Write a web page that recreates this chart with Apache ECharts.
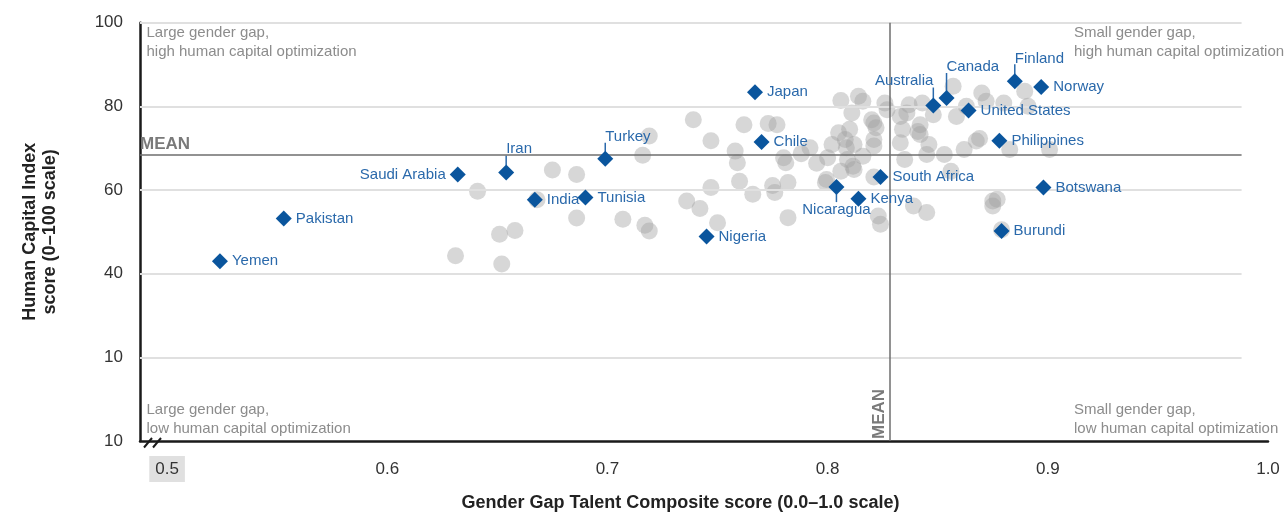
<!DOCTYPE html>
<html><head><meta charset="utf-8">
<script src="https://cdn.jsdelivr.net/npm/echarts@6/dist/echarts.min.js"></script>
<style>html,body{margin:0;padding:0;background:#fff}#c{width:1287px;height:517px}</style>
</head><body><div id="c"></div>
<script>
// ---------- DATA ----------
const countryNames = ['Yemen','Pakistan','Saudi Arabia','Iran','India','Tunisia','Turkey','Japan','Chile','Nigeria','Nicaragua','Kenya','South Africa','Australia','Canada','Finland','Norway','United States','Philippines','Botswana','Burundi'];
const countryX = [0.524,0.553,0.632,0.654,0.667,0.690,0.699,0.767,0.770,0.745,0.804,0.814,0.824,0.848,0.854,0.885,0.897,0.864,0.878,0.898,0.879];
const countryY = [43.0,53.2,63.7,64.2,57.7,58.2,67.5,83.4,71.5,48.9,60.7,57.9,63.1,80.2,82.0,86.0,84.6,79.0,71.8,60.6,50.2];

const otherX = [0.641,0.675,0.686,0.686,0.651,0.658,0.631,0.652,0.707,0.717,0.719,0.716,0.719,0.668,
  0.739,0.762,0.773,0.777,0.747,0.758,0.759,0.780,0.781,0.788,0.792,0.795,0.800,0.802,0.805,0.806,
  0.760,0.747,0.766,0.775,0.776,0.782,0.799,0.736,0.742,0.750,0.782,
  0.814,0.816,0.826,0.837,0.843,0.811,0.827,0.833,0.848,0.820,0.821,0.822,0.810,0.808,0.834,0.841,0.842,0.821,
  0.8085,0.812,0.821,0.833,0.846,0.853,0.845,0.809,0.816,0.8115,0.835,0.806,0.812,0.821,0.7995,
  0.839,0.845,0.823,0.824,0.857,0.870,0.872,0.880,0.8895,0.891,0.8585,0.863,0.8675,0.869,0.862,0.8827,0.9008,
  0.856,0.875,0.877,0.875,0.836,0.879,0.842];
const otherY = [59.7,64.8,63.7,53.3,49.4,50.3,44.3,42.3,53.0,51.6,50.2,68.3,72.9,57.7,
  76.8,75.6,75.9,75.6,71.8,69.3,66.5,67.7,66.5,68.7,70.1,66.4,67.7,70.9,73.7,81.4,
  62.1,60.6,59.0,61.1,59.4,61.8,61.8,57.4,55.6,52.2,53.4,
  82.4,81.2,80.8,80.4,80.8,78.4,79.2,77.6,78.0,76.8,76.0,74.9,74.5,72.1,74.5,74.0,73.3,72.1,
  70.1,70.9,70.5,71.3,70.9,68.5,68.5,67.3,68.1,65.7,67.3,64.5,64.9,63.1,62.5,
  56.2,54.6,53.8,51.8,84.8,83.2,81.2,80.8,83.6,80.0,77.6,80.0,71.7,72.3,69.7,69.7,69.7,
  64.5,57.4,57.8,56.2,78.4,50.5,75.6];

const xTickValues = [0.5,0.6,0.7,0.8,0.9,1.0];
const xTickLabels = ['0.5','0.6','0.7','0.8','0.9','1.0'];
const yTickValues = [0,20,40,60,80,100];
const yTickLabels = ['10','10','40','60','80','100'];
const gridLineValues = [20,40,60,80,100];
const meanX = 0.828;
const meanY = 68.5;
const xMin = 0.4877, xMax = 1.0, gridLineEndX = 0.988;

const quadrantTexts = [
  'Large gender gap,\nhigh human capital optimization',
  'Large gender gap,\nlow human capital optimization',
  'Small gender gap,\nhigh human capital optimization',
  'Small gender gap,\nlow human capital optimization'
];

// ---------- STYLE ----------
const FONT = '"Liberation Sans", Arial, Helvetica, sans-serif';
const BLUE = '#0a559d';
const LABEL_BLUE = '#2a69ab';

const labelStyle = {
  'Saudi Arabia': {position:'left', distance:4},
  'Iran': {position:'top', distance:8, align:'left', offset:[-2,0]},
  'Turkey': {position:'top', distance:6, align:'left', offset:[-5,0]},
  'Australia': {position:'top', distance:9, align:'right', offset:[6,0]},
  'Canada': {position:'top', distance:16, align:'left', offset:[-5,0]},
  'Finland': {position:'top', distance:7, align:'left', offset:[-3,0]},
  'Nicaragua': {position:'bottom', distance:7, align:'center', offset:[-19,0]},
  'United States': {position:'right', distance:4, offset:[0,5]}
};
const leaderLen = {'Iran':10,'Turkey':9,'Australia':11,'Canada':18,'Finland':10,'Nicaragua':-8};

const countryData = countryNames.map((n,i)=>{
  const ls = labelStyle[n] || {position:'right', distance:4};
  return {name:n, value:[countryX[i], countryY[i]], label:Object.assign({show:true}, ls)};
});
const otherData = otherX.map((x,i)=>[x, otherY[i]]);
const leaderData = countryNames.map((n,i)=> leaderLen[n] ? [countryX[i], countryY[i], leaderLen[n]] : null).filter(Boolean);

const gridLineData = gridLineValues.map(v=>[{coord:[xMin, v]},{coord:[gridLineEndX, v]}]);

function tickFmt(values, labels){
  return function(v){
    for (let i=0;i<values.length;i++) if (Math.abs(values[i]-v)<1e-6) return labels[i];
    return '';
  };
}

const chart = echarts.init(document.getElementById('c'), null, {renderer:'canvas'});
chart.setOption({
  animation:false,
  backgroundColor:'#fff',
  textStyle:{fontFamily:FONT},
  grid:{left:140, right:19, top:22.7, bottom:74.3, containLabel:false},
  xAxis:{
    type:'value', min:xMin, max:xMax,
    name:'Gender Gap Talent Composite score (0.0–1.0 scale)',
    nameLocation:'middle', nameGap:53,
    nameTextStyle:{fontSize:18, fontWeight:'bold', color:'#222', fontFamily:FONT, padding:[0,47,0,0]},
    axisLine:{show:true, onZero:false, lineStyle:{color:'#1a1a1a', width:2.5}},
    axisTick:{show:false},
    splitLine:{show:false},
    axisLabel:{
      customValues:xTickValues, margin:15, fontSize:17, color:'#333', fontFamily:FONT,
      formatter:function(v){ const t = tickFmt(xTickValues,xTickLabels)(v); return v<0.55 ? '{hl|'+t+'}' : '{n|'+t+'}'; },
      rich:{
        hl:{backgroundColor:'#e0e0e0', padding:[5,6,4,6], fontSize:17, color:'#333', fontFamily:FONT},
        n:{padding:[5,6,4,6], fontSize:17, color:'#333', fontFamily:FONT}
      }
    }
  },
  yAxis:{
    type:'value', min:0, max:100,
    name:'Human Capital Index\nscore (0–100 scale)',
    nameLocation:'middle', nameGap:80,
    nameTextStyle:{fontSize:18, fontWeight:'bold', color:'#222', lineHeight:20, fontFamily:FONT},
    axisLine:{show:true, onZero:false, lineStyle:{color:'#1a1a1a', width:2.5}},
    axisTick:{show:false},
    splitLine:{show:false},
    axisLabel:{customValues:yTickValues, margin:17, fontSize:17, color:'#333', fontFamily:FONT,
      formatter:tickFmt(yTickValues,yTickLabels)}
  },
  series:[
    {
      type:'scatter', data:[], silent:true, z:1,
      markLine:{
        silent:true, symbol:'none', animation:false,
        lineStyle:{color:'#e0e0e0', width:2, type:'solid'},
        label:{show:false},
        data:gridLineData
      }
    },
    {
      type:'scatter', data:[], silent:true, z:2,
      markLine:{
        silent:true, symbol:'none', animation:false,
        lineStyle:{color:'#6e6e6e', width:1.5, type:'solid'},
        data:[
          [{coord:[xMin, meanY], label:{show:true, formatter:'MEAN', position:'insideStartTop', distance:[0,2],
             fontSize:17, fontWeight:'bold', color:'#7a7a7a', fontFamily:FONT}},
           {coord:[gridLineEndX, meanY]}],
          [{coord:[meanX, 0], label:{show:true, formatter:'MEAN', position:'insideStartTop', distance:[2,1],
             fontSize:17, fontWeight:'bold', color:'#7a7a7a', fontFamily:FONT}},
           {coord:[meanX, 100]}]
        ]
      }
    },
    {
      type:'scatter', data:otherData, symbol:'circle', symbolSize:17, z:3,
      itemStyle:{color:'rgba(160,160,160,0.42)', opacity:1}
    },
    {
      type:'custom', z:4, data:leaderData,
      renderItem:function(params, api){
        const p = api.coord([api.value(0), api.value(1)]);
        const len = api.value(2);
        const d = len>0 ? -1 : 1;
        const L = Math.abs(len);
        return {type:'line', shape:{x1:p[0], y1:p[1]+d*7, x2:p[0], y2:p[1]+d*(7+L)},
          style:{stroke:LABEL_BLUE, lineWidth:1.5}};
      }
    },
    {
      type:'scatter', data:countryData, symbol:'diamond', symbolSize:16, z:5,
      itemStyle:{color:BLUE, opacity:1},
      label:{show:true, formatter:'{b}', fontSize:15, color:LABEL_BLUE, fontFamily:FONT},
      labelLayout:{hideOverlap:false}
    }
  ],
  graphic:[
    {type:'text', left:146.5, top:23.5, style:{text:quadrantTexts[0], font:'15px '+FONT, fill:'#8c8c8c', lineHeight:19}},
    {type:'text', left:146.5, top:400.5, style:{text:quadrantTexts[1], font:'15px '+FONT, fill:'#8c8c8c', lineHeight:19}},
    {type:'text', left:1074, top:23.5, style:{text:quadrantTexts[2], font:'15px '+FONT, fill:'#8c8c8c', lineHeight:19}},
    {type:'text', left:1074, top:400.5, style:{text:quadrantTexts[3], font:'15px '+FONT, fill:'#8c8c8c', lineHeight:19}},
    {type:'line', shape:{x1:144, y1:447.5, x2:152, y2:438}, style:{stroke:'#1a1a1a', lineWidth:2}, z:100},
    {type:'line', shape:{x1:153, y1:447.5, x2:161, y2:438}, style:{stroke:'#1a1a1a', lineWidth:2}, z:100}
  ]
});
</script>
</body></html>
